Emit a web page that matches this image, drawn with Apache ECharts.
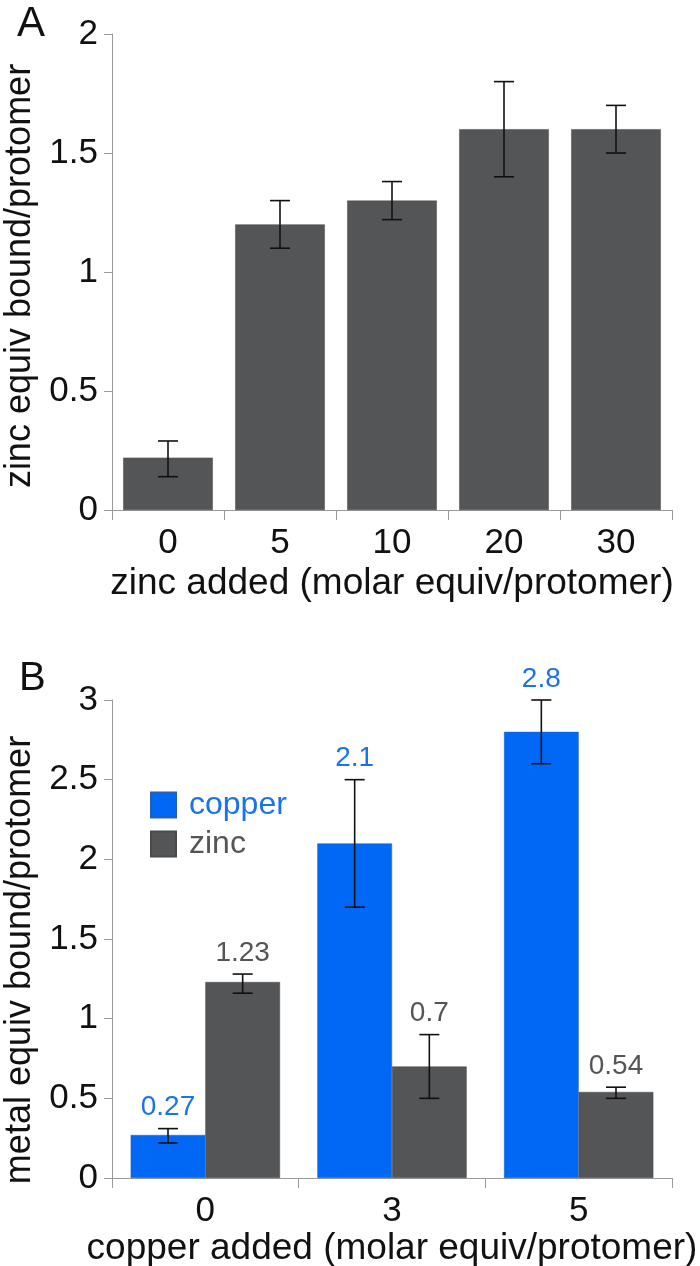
<!DOCTYPE html>
<html>
<head>
<meta charset="utf-8">
<script src="https://cdn.jsdelivr.net/npm/echarts@6/dist/echarts.min.js"></script>
<style>html,body{margin:0;padding:0;background:#fff}#c{width:700px;height:1266px}</style>
</head>
<body>
<div id="c"></div>
<script>
// ---- Panel A data ----
const catsA = ['0', '5', '10', '20', '30'];
const zincA = [0.22, 1.2, 1.3, 1.6, 1.6];
const zincALow = [0.14, 1.1, 1.22, 1.4, 1.5];
const zincAHigh = [0.29, 1.3, 1.38, 1.8, 1.7];
const yTicksA = { min: 0, max: 2, interval: 0.5 };

// ---- Panel B data ----
const catsB = ['0', '3', '5'];
const copperB = [0.27, 2.1, 2.8];
const copperLow = [0.22, 1.7, 2.6];
const copperHigh = [0.31, 2.5, 3.0];
const copperLabels = ['0.27', '2.1', '2.8'];
const zincB = [1.23, 0.7, 0.54];
const zincLow = [1.16, 0.5, 0.5];
const zincHigh = [1.28, 0.9, 0.57];
const zincLabels = ['1.23', '0.7', '0.54'];
const yTicksB = { min: 0, max: 3, interval: 0.5 };

const FONT = "'Liberation Sans', Arial, sans-serif";
const BLUE_BAR = '#0068f5';
const BLUE_TXT = '#1a73e8';
const GRAY_BAR = '#545557';
const GRAY_TXT = '#555555';
const AXIS = '#9a9a9a';

function errData(low, high, labels) {
  return low.map((l, i) => [i, l, high[i], labels ? labels[i] : '']);
}

function errRenderer(offsetFrac, labelColor) {
  return function (params, api) {
    const idx = api.value(0);
    const cw = api.size([1, 0])[0];
    const lowP = api.coord([idx, api.value(1)]);
    const highP = api.coord([idx, api.value(2)]);
    const x = lowP[0] + offsetFrac * cw;
    const cap = 10;
    const st = { stroke: '#111', lineWidth: 1.6 };
    const children = [
      { type: 'line', shape: { x1: x, y1: lowP[1], x2: x, y2: highP[1] }, style: st },
      { type: 'line', shape: { x1: x - cap, y1: lowP[1], x2: x + cap, y2: lowP[1] }, style: st },
      { type: 'line', shape: { x1: x - cap, y1: highP[1], x2: x + cap, y2: highP[1] }, style: st }
    ];
    const lbl = api.value(3);
    if (lbl !== '' && lbl != null) {
      children.push({
        type: 'text', x: x, y: highP[1] - 7,
        style: { text: String(lbl), fill: labelColor, font: '28px ' + FONT, align: 'center', verticalAlign: 'bottom' }
      });
    }
    return { type: 'group', children: children };
  };
}

const chart = echarts.init(document.getElementById('c'), null, { renderer: 'canvas' });

function xAxisCfg(grid, cats, name, gap) {
  return {
    gridIndex: grid, type: 'category', data: cats,
    axisLine: { show: true, lineStyle: { color: AXIS, width: 1 } },
    axisTick: { show: true, length: 10, lineStyle: { color: AXIS } },
    axisLabel: { fontSize: 35, color: '#111', margin: 16, fontFamily: FONT },
    name: name, nameLocation: 'middle', nameGap: gap,
    nameTextStyle: { fontSize: 37, color: '#111', fontFamily: FONT }
  };
}
function yAxisCfg(grid, t, name, pad) {
  return {
    gridIndex: grid, type: 'value', min: t.min, max: t.max, interval: t.interval,
    axisLine: { show: true, lineStyle: { color: AXIS, width: 1 } },
    axisTick: { show: true, length: 8, lineStyle: { color: AXIS } },
    splitLine: { show: false },
    axisLabel: { fontSize: 35, color: '#111', margin: 14, fontFamily: FONT },
    name: name, nameLocation: 'middle', nameGap: 72,
    nameTextStyle: { fontSize: 36, color: '#111', fontFamily: FONT, padding: [0, pad, 0, 0] }
  };
}

const option = {
  animation: false,
  backgroundColor: '#ffffff',
  textStyle: { fontFamily: FONT },
  title: [
    { text: 'A', left: 12, top: -2, textStyle: { fontSize: 42, fontWeight: 'normal', color: '#111', fontFamily: FONT } },
    { text: 'B', left: 14, top: 654, textStyle: { fontSize: 40, fontWeight: 'normal', color: '#111', fontFamily: FONT } }
  ],
  grid: [
    { left: 112, right: 28, top: 34, height: 476, containLabel: false, outerBoundsMode: 'none' },
    { left: 112, right: 28, top: 700, height: 478, containLabel: false, outerBoundsMode: 'none' }
  ],
  xAxis: [
    xAxisCfg(0, catsA, 'zinc added (molar equiv/protomer)', 55),
    xAxisCfg(1, catsB, 'copper added (molar equiv/protomer)', 51)
  ],
  yAxis: [
    yAxisCfg(0, yTicksA, 'zinc equiv bound/protomer', 8),
    yAxisCfg(1, yTicksB, 'metal equiv bound/protomer', 42)
  ],
  legend: {
    orient: 'vertical', left: 150, top: 789, itemWidth: 25, itemHeight: 25, itemGap: 7,
    padding: 0, selectedMode: false,
    textStyle: { fontSize: 32, fontFamily: FONT, padding: [0, 0, 0, 8] },
    data: [
      { name: 'copper', icon: 'rect', textStyle: { color: BLUE_TXT } },
      { name: 'zinc', icon: 'rect', textStyle: { color: GRAY_TXT } }
    ]
  },
  series: [
    {
      name: 'zinc bound', type: 'bar', xAxisIndex: 0, yAxisIndex: 0, data: zincA,
      barCategoryGap: '20%', itemStyle: { color: GRAY_BAR, borderColor: '#4a4a4a', borderWidth: 0.5 }
    },
    {
      name: 'zinc A err', type: 'custom', xAxisIndex: 0, yAxisIndex: 0, z: 5,
      data: errData(zincALow, zincAHigh, null), renderItem: errRenderer(0, GRAY_TXT)
    },
    {
      name: 'copper', type: 'bar', xAxisIndex: 1, yAxisIndex: 1, data: copperB,
      barCategoryGap: '20%', barGap: '0%', itemStyle: { color: BLUE_BAR, borderColor: '#2a5fb0', borderWidth: 0.5 }
    },
    {
      name: 'zinc', type: 'bar', xAxisIndex: 1, yAxisIndex: 1, data: zincB,
      barCategoryGap: '20%', barGap: '0%', itemStyle: { color: GRAY_BAR, borderColor: '#4a4a4a', borderWidth: 0.5 }
    },
    {
      name: 'copper err', type: 'custom', xAxisIndex: 1, yAxisIndex: 1, z: 5,
      data: errData(copperLow, copperHigh, copperLabels), renderItem: errRenderer(-0.2, BLUE_TXT)
    },
    {
      name: 'zinc err', type: 'custom', xAxisIndex: 1, yAxisIndex: 1, z: 5,
      data: errData(zincLow, zincHigh, zincLabels), renderItem: errRenderer(0.2, GRAY_TXT)
    }
  ]
};
chart.setOption(option);
</script>
</body>
</html>
